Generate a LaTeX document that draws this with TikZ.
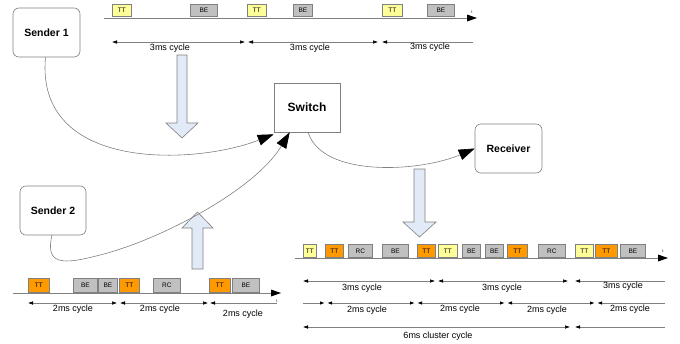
\documentclass[tikz,border=0pt]{standalone}
\usepackage{fontspec}
\setmainfont{Liberation Sans}
\usetikzlibrary{arrows.meta}
\definecolor{ttyellow}{HTML}{FFFF99}
\definecolor{ttorange}{HTML}{FF9900}
\definecolor{begray}{HTML}{C0C0C0}
\definecolor{edgegray}{HTML}{808080}
\definecolor{bigarrow}{HTML}{E3EAF7}
\tikzset{
  slotbox/.style={draw=edgegray, line width=0.8pt, anchor=south west, inner sep=0pt, font=\fontsize{6.5}{7}\selectfont},
  tty/.style={slotbox, fill=ttyellow},
  tto/.style={slotbox, fill=ttorange},
  gry/.style={slotbox, fill=begray},
  axis/.style={draw=edgegray, line width=0.8pt},
  axtip/.style={fill=black},
  cyc/.style={draw=edgegray, line width=0.5pt, {Latex[length=5pt,width=3.5pt,black]}-{Latex[length=5pt,width=3.5pt,black]}},
  cycr/.style={draw=edgegray, line width=0.5pt, -{Latex[length=5pt,width=3.5pt,black]}},
  cycl/.style={draw=edgegray, line width=0.5pt, {Latex[length=5pt,width=3.5pt,black]}-},
  lbl/.style={font=\fontsize{9}{10}\selectfont, inner sep=0pt},
  tlbl/.style={font=\fontsize{4}{5}\selectfont, inner sep=0pt},
  station/.style={draw=edgegray, rounded corners=6pt, line width=0.6pt, fill=white, font=\bfseries\fontsize{10.5}{12}\selectfont, inner sep=0pt},
  link/.style={draw=edgegray, line width=0.6pt, -{Triangle[length=16pt,width=11pt,black]}},
  fat/.style={draw=edgegray, line width=0.6pt, fill=bigarrow}
}
\begin{document}
\begin{tikzpicture}[x=1pt,y=-1pt]
\useasboundingbox (0,0) rectangle (680,343);

% stations
\node[station, minimum width=67pt, minimum height=49pt] (s1) at (46.5,32.5) {Sender 1};
\node[station, minimum width=66pt, minimum height=49pt] (s2) at (53,210.5) {Sender 2};
\node[station, minimum width=67pt, minimum height=49pt] (rx) at (508.5,148.5) {Receiver};
\fill[edgegray] (277,86) rectangle (341,133);
\node[draw=edgegray, line width=0.6pt, fill=white, minimum width=66pt, minimum height=49pt, inner sep=0pt, font=\bfseries\fontsize{12}{13}\selectfont] (sw) at (307,107.5) {Switch};

% big arrows
\draw[fat] (177,55) -- (187,55) -- (187,123) -- (198,123) -- (182,138) -- (166,123) -- (177,123) -- cycle;
\draw[fat] (192,269) -- (203,269) -- (203,228) -- (213,228) -- (197.5,212) -- (182,228) -- (192,228) -- cycle;
\draw[fat] (414,169) -- (425,169) -- (425,222) -- (436,222) -- (419.5,237) -- (403,222) -- (414,222) -- cycle;

% connectors
\coordinate (s1o) at ([xshift=-1pt]s1.south);
\coordinate (sw1) at ([yshift=-2pt]sw.south west);
\draw[link] (s1o) .. controls (35,172) and (195,165) .. (sw1);
\coordinate (s2o) at (52,235);
\coordinate (sw2) at ([xshift=16pt]sw.south west);
\draw[link] (s2o) .. controls (45,265) and (62,265) .. (100,255) .. controls (160,240) and (255,190) .. (sw2);
\coordinate (swo) at (308,132);
\draw[link] (swo) .. controls (322,178) and (420,172) .. (rx.west);

% ===== top timeline (Sender 1) =====
\draw[axis] (104,18) -- (470,18);
\fill[axtip] (467,14.5) -- (477,18) -- (467,21.5) -- cycle;
\node[tlbl] (t1) at (472,12) {t};
\node[tty, minimum width=19pt, minimum height=12pt] (a1) at (112,17) {TT};
\node[gry, minimum width=27pt, minimum height=12pt] (a2) at (190,17) {BE};
\node[tty, minimum width=19pt, minimum height=12pt] (a3) at (247,17) {TT};
\node[gry, minimum width=19pt, minimum height=12pt] (a4) at (293,17) {BE};
\node[tty, minimum width=20pt, minimum height=12pt] (a5) at (382,17) {TT};
\node[gry, minimum width=27pt, minimum height=12pt] (a6) at (427,17) {BE};
\draw[cyc] (112,42) -- (245,42);
\draw[cyc] (248,42) -- (378,42);
\draw[cycl] (382,42) -- (473,42);
\node[lbl] (c1) at (170,48) {3ms cycle};
\node[lbl] (c2) at (310,48) {3ms cycle};
\node[lbl] (c3) at (430,47) {3ms cycle};

% ===== bottom-left timeline (Sender 2) =====
\draw[axis] (13,293) -- (274,293);
\fill[axtip] (271,289.5) -- (281,293) -- (271,296.5) -- cycle;
\node[tlbl] (t2) at (277,301) {t};
\node[tto, minimum width=21pt, minimum height=14pt] (b1) at (28,293) {TT};
\node[gry, minimum width=24pt, minimum height=14pt] (b2) at (73,293) {BE};
\node[gry, minimum width=19pt, minimum height=14pt] (b3) at (98,293) {BE};
\node[tto, minimum width=20pt, minimum height=14pt] (b4) at (119,293) {TT};
\node[gry, minimum width=27pt, minimum height=14pt] (b5) at (153,293) {RC};
\node[tto, minimum width=21pt, minimum height=14pt] (b6) at (209,293) {TT};
\node[gry, minimum width=27pt, minimum height=14pt] (b7) at (232,293) {BE};
\draw[cyc] (28,303) -- (117,303);
\draw[cyc] (120,303) -- (208,303);
\draw[cycl] (210,303) -- (277,303);
\node[lbl] (d1) at (73,309) {2ms cycle};
\node[lbl] (d2) at (160,309) {2ms cycle};
\node[lbl] (d3) at (243,314) {2ms cycle};

% ===== bottom-right timeline (Receiver) =====
\draw[axis] (295,258) -- (661,258);
\fill[axtip] (658,254.5) -- (668,258) -- (658,261.5) -- cycle;
\node[tlbl] (t3) at (663,251) {t};
\node[tty, minimum width=13pt, minimum height=13pt] (r1) at (303,258) {TT};
\node[tto, minimum width=18pt, minimum height=13pt] (r2) at (325,258) {TT};
\node[gry, minimum width=24pt, minimum height=13pt] (r3) at (348,258) {RC};
\node[gry, minimum width=26pt, minimum height=13pt] (r4) at (382,258) {BE};
\node[tto, minimum width=18pt, minimum height=13pt] (r5) at (417,258) {TT};
\node[tty, minimum width=19pt, minimum height=13pt] (r6) at (438,258) {TT};
\node[gry, minimum width=18pt, minimum height=13pt] (r7) at (462,258) {BE};
\node[gry, minimum width=18pt, minimum height=13pt] (r8) at (485,258) {BE};
\node[tto, minimum width=20pt, minimum height=13pt] (r9) at (507,258) {TT};
\node[gry, minimum width=27pt, minimum height=13pt] (r10) at (538,258) {RC};
\node[tty, minimum width=18pt, minimum height=13pt] (r11) at (575,258) {TT};
\node[tto, minimum width=22pt, minimum height=13pt] (r12) at (595,258) {TT};
\node[gry, minimum width=25pt, minimum height=13pt] (r13) at (620,258) {BE};
% 3ms row
\draw[cyc] (303,281) -- (435,281);
\draw[cyc] (438,281) -- (568,281);
\draw[cycl] (575,281) -- (665,281);
\node[lbl] (e1) at (362,288) {3ms cycle};
\node[lbl] (e2) at (502,288) {3ms cycle};
\node[lbl] (e3) at (623,286) {3ms cycle};
% 2ms row
\draw[cycr, line width=0.9pt] (303,303) -- (325,303);
\draw[cyc, line width=0.9pt] (327,303) -- (415,303);
\draw[cyc, line width=0.9pt] (417,303) -- (505,303);
\draw[cyc, line width=0.9pt] (507,303) -- (595,303);
\draw[cycl, line width=0.9pt] (597,303) -- (665,303);
\node[lbl] (f1) at (367,310) {2ms cycle};
\node[lbl] (f2) at (460,309) {2ms cycle};
\node[lbl] (f3) at (547,310) {2ms cycle};
\node[lbl] (f4) at (630,309) {2ms cycle};
% 6ms row
\draw[cyc] (303,327) -- (570,327);
\draw[cycl] (575,327) -- (665,327);
\node[lbl] (g1) at (438,336) {6ms cluster cycle};
\end{tikzpicture}
\end{document}
